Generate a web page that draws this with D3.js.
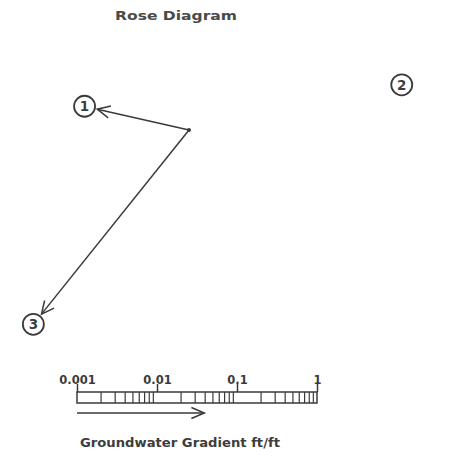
<!DOCTYPE html>
<html>
<head>
<meta charset="utf-8">
<script src="https://cdn.jsdelivr.net/npm/d3@7"></script>
<style>
  body { margin: 0; background: #fff; }
  text { font-family: "DejaVu Sans", sans-serif; font-weight: bold; fill: #3d3d3d; }
</style>
</head>
<body>
<svg id="chart" width="458" height="457"></svg>
<script>
// Gradient events: direction of flow (degrees clockwise from north) and magnitude (ft/ft)
const events = ["1", "2", "3"];
const azimuthDeg = [282.8, 78, 218.7];
const gradient = [0.015, 0.36, 0.89];
const arrowShown = [true, false, true];

// Logarithmic gradient scale bar
const scaleTicks = [0.001, 0.01, 0.1, 1];
const scaleTickLabels = ["0.001", "0.01", "0.1", "1"];
const minorMultipliers = [2, 3, 4, 5, 6, 7, 8, 9];
const legendGradient = 0.039;

const title = "Rose Diagram";
const axisTitle = "Groundwater Gradient ft/ft";

const ink = "#3a3a3a";
const svg = d3.select("#chart");

// Same log scale drives the rose arrow length and the legend bar
const lengthScale = d3.scaleLog().domain([0.001, 1]).range([0, 240]);
const barScale = d3.scaleLog().domain([0.001, 1]).range([77, 317]);

const origin = { x: 189, y: 130 };
const labelGap = 13;
const polar = (az, r) => [origin.x + r * Math.sin(az * Math.PI / 180),
                          origin.y - r * Math.cos(az * Math.PI / 180)];

function arrowHead(tip, angleRad, len, spread) {
  const a1 = angleRad + Math.PI - spread, a2 = angleRad + Math.PI + spread;
  return `M${tip[0] + len * Math.cos(a1)},${tip[1] + len * Math.sin(a1)}L${tip[0]},${tip[1]}L${tip[0] + len * Math.cos(a2)},${tip[1] + len * Math.sin(a2)}`;
}

// Title
svg.append("text")
  .attr("x", 176).attr("y", 20)
  .attr("text-anchor", "middle")
  .attr("font-size", 12.5)
  .attr("textLength", 122).attr("lengthAdjust", "spacingAndGlyphs")
  .style("fill", "#4a4a4a")
  .text(title);

const data = events.map((e, i) => ({
  label: e, az: azimuthDeg[i], g: gradient[i], shown: arrowShown[i]
}));

// Rose arrows
const rose = svg.append("g");
data.filter(d => d.shown).forEach(d => {
  const r = lengthScale(d.g);
  const tip = polar(d.az, r);
  const ang = Math.atan2(tip[1] - origin.y, tip[0] - origin.x);
  rose.append("line")
    .attr("x1", origin.x).attr("y1", origin.y)
    .attr("x2", tip[0]).attr("y2", tip[1])
    .attr("stroke", ink).attr("stroke-width", 1.5);
  rose.append("path")
    .attr("d", arrowHead(tip, ang, 14, 0.45))
    .attr("fill", "none").attr("stroke", ink).attr("stroke-width", 1.5);
});
rose.append("circle")
  .attr("cx", origin.x).attr("cy", origin.y).attr("r", 2).attr("fill", ink);

// Event labels in circles
const labels = rose.selectAll("g.lbl").data(data).join("g")
  .attr("class", "lbl")
  .attr("transform", d => {
    const p = polar(d.az, lengthScale(d.g) + labelGap);
    return `translate(${p[0]},${p[1]})`;
  });
labels.append("circle")
  .attr("r", 10.5).attr("fill", "#fff")
  .attr("stroke", ink).attr("stroke-width", 1.8);
labels.append("text")
  .attr("text-anchor", "middle").attr("dy", "0.37em")
  .attr("font-size", 13.5)
  .text(d => d.label);

// Scale bar
const bar = svg.append("g");
bar.append("rect")
  .attr("x", barScale(0.001)).attr("y", 392)
  .attr("width", barScale(1) - barScale(0.001)).attr("height", 11)
  .attr("fill", "none").attr("stroke", ink).attr("stroke-width", 1.5);

const minorValues = [];
scaleTicks.slice(0, -1).forEach(d => minorMultipliers.forEach(m => minorValues.push(d * m)));
bar.selectAll("line.minor").data(minorValues).join("line")
  .attr("class", "minor")
  .attr("x1", d => barScale(d)).attr("x2", d => barScale(d))
  .attr("y1", 392).attr("y2", 403)
  .attr("stroke", ink).attr("stroke-width", 1.2);

const axis = d3.axisTop(barScale)
  .tickValues(scaleTicks)
  .tickFormat((d, i) => scaleTickLabels[i])
  .tickSize(8).tickPadding(0);
const axisG = svg.append("g").attr("transform", "translate(0,392)").call(axis);
axisG.select(".domain").remove();
axisG.selectAll(".tick line").attr("stroke", ink).attr("stroke-width", 1.5);
axisG.selectAll(".tick text")
  .attr("font-size", 11.5).attr("font-family", "DejaVu Sans, sans-serif")
  .attr("font-weight", "bold").style("fill", ink);

// Legend arrow showing direction of the gradient vector
const lx0 = barScale(0.001), lx1 = barScale(legendGradient), ly = 413;
svg.append("line")
  .attr("x1", lx0).attr("y1", ly).attr("x2", lx1).attr("y2", ly)
  .attr("stroke", ink).attr("stroke-width", 1.5);
svg.append("path")
  .attr("d", arrowHead([lx1, ly], 0, 14, 0.4))
  .attr("fill", "none").attr("stroke", ink).attr("stroke-width", 1.5);

svg.append("text")
  .attr("x", 180).attr("y", 447)
  .attr("text-anchor", "middle")
  .attr("font-size", 11.5)
  .attr("textLength", 200).attr("lengthAdjust", "spacingAndGlyphs")
  .text(axisTitle);
</script>
</body>
</html>
